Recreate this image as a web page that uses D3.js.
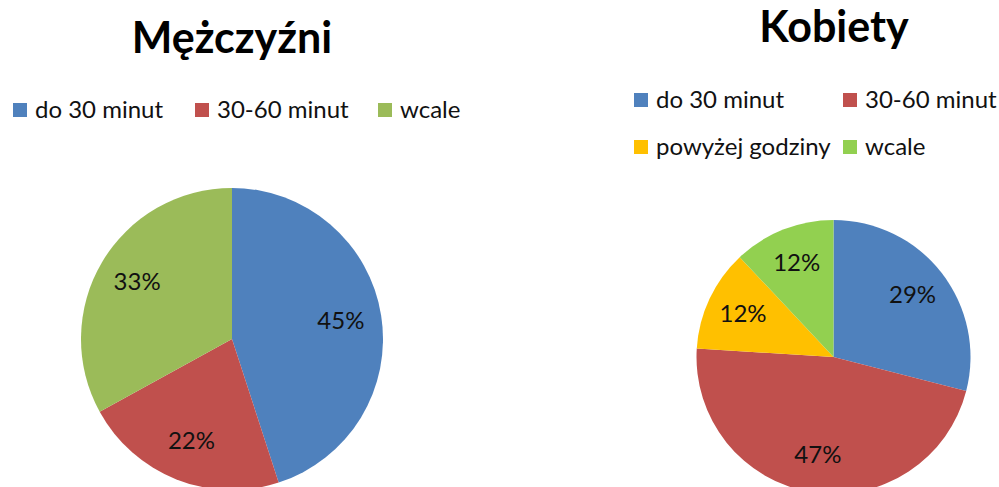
<!DOCTYPE html>
<html>
<head>
<meta charset="utf-8">
<script src="https://cdn.jsdelivr.net/npm/d3@7"></script>
<style>
  body { margin: 0; background: #fff; }
  svg { display: block; font-family: Lato, "Open Sans", sans-serif; }
</style>
</head>
<body>
<div id="chart"></div>
<script>
// --- data ---
const menCategories   = ["do 30 minut", "30-60 minut", "wcale"];
const menValues       = [45, 22, 33];
const menColors       = ["#4F81BD", "#C0504D", "#9BBB59"];

const womenCategories = ["do 30 minut", "30-60 minut", "powyżej godziny", "wcale"];
const womenValues     = [29, 47, 12, 12];
const womenColors     = ["#4F81BD", "#C0504D", "#FFC000", "#92D050"];

const width = 999, height = 487;

const svg = d3.select("#chart").append("svg")
    .attr("width", width)
    .attr("height", height);

function drawPie({ title, categories, values, colors, cx, cy, r, titleX, titleY, legendCols, legendRows }) {
    const g = svg.append("g");

    g.append("text")
        .attr("x", titleX)
        .attr("y", titleY)
        .attr("text-anchor", "middle")
        .style("font-weight", "bold")
        .style("font-size", "43px")
        .text(title);

    // legend, laid out on a grid of column / row positions
    const perRow = legendCols.length;
    const legend = g.selectAll(".legend")
        .data(categories)
        .join("g")
        .attr("class", "legend")
        .attr("transform", (d, i) => `translate(${legendCols[i % perRow]},${legendRows[Math.floor(i / perRow)]})`);

    legend.append("rect")
        .attr("x", 0)
        .attr("y", -7)
        .attr("width", 14)
        .attr("height", 14)
        .attr("fill", (d, i) => colors[i]);

    legend.append("text")
        .attr("x", 22)
        .attr("dy", "0.35em")
        .style("font-size", "24px")
        .style("fill", "#111")
        .text(d => d);

    const pie = d3.pie().sort(null).value(d => d);
    const arc = d3.arc().innerRadius(0).outerRadius(r);
    const labelArc = d3.arc().innerRadius(r * 0.73).outerRadius(r * 0.73);

    const slices = g.append("g")
        .attr("transform", `translate(${cx},${cy})`);

    const arcs = pie(values);

    slices.selectAll("path")
        .data(arcs)
        .join("path")
        .attr("d", arc)
        .attr("fill", (d, i) => colors[i]);

    slices.selectAll("text")
        .data(arcs)
        .join("text")
        .attr("transform", d => `translate(${labelArc.centroid(d)})`)
        .attr("text-anchor", "middle")
        .attr("dy", "0.3em")
        .style("font-size", "24px")
        .style("fill", "#111")
        .text(d => d.data + "%");
}

drawPie({
    title: "Mężczyźni",
    categories: menCategories,
    values: menValues,
    colors: menColors,
    cx: 232, cy: 339, r: 151,
    titleX: 232, titleY: 53,
    legendCols: [13, 195, 378],
    legendRows: [110]
});

drawPie({
    title: "Kobiety",
    categories: womenCategories,
    values: womenValues,
    colors: womenColors,
    cx: 833.5, cy: 357, r: 137,
    titleX: 834, titleY: 42,
    legendCols: [634, 843],
    legendRows: [100, 147]
});
</script>
</body>
</html>
